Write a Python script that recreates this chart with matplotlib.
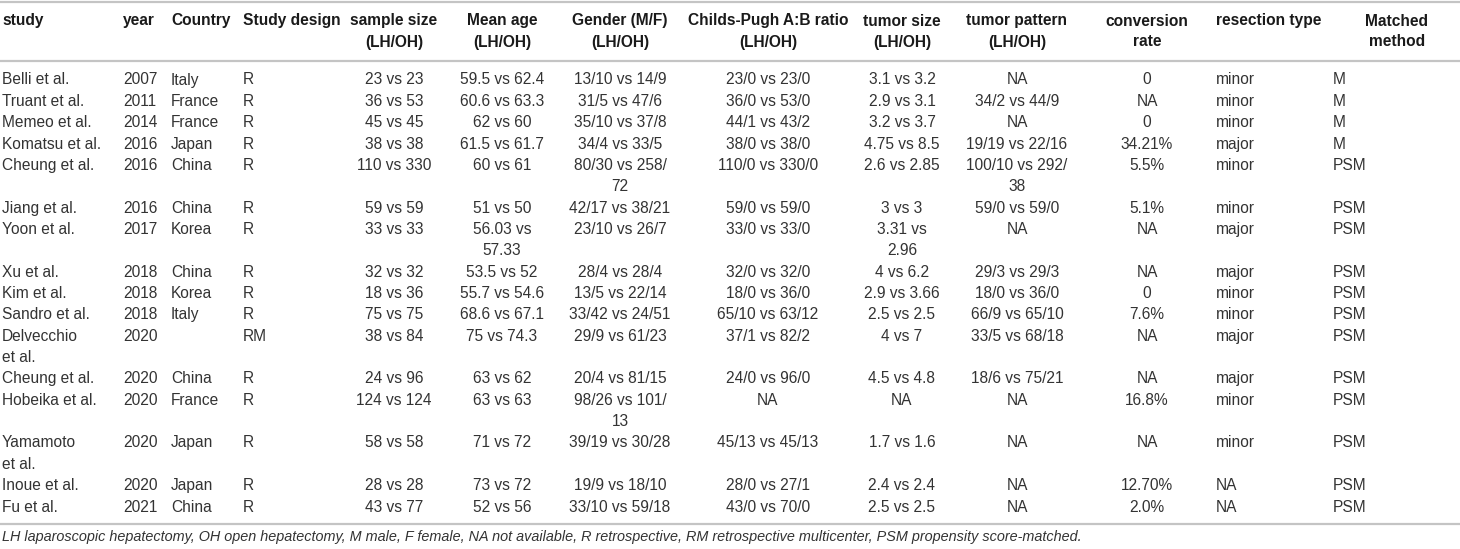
import matplotlib
matplotlib.use("Agg")
import matplotlib.pyplot as plt

plt.rcParams['font.family'] = ['Liberation Sans', 'DejaVu Sans']

headers = ["study", "year", "Country", "Study design", "sample size\n(LH/OH)", "Mean age\n(LH/OH)",
           "Gender (M/F)\n(LH/OH)", "Childs-Pugh A:B ratio\n(LH/OH)", "tumor size\n(LH/OH)",
           "tumor pattern\n(LH/OH)", "conversion\nrate", "resection type", "Matched\nmethod"]

studies = ["Belli et al.", "Truant et al.", "Memeo et al.", "Komatsu et al.", "Cheung et al.", "Jiang et al.",
           "Yoon et al.", "Xu et al.", "Kim et al.", "Sandro et al.", "Delvecchio\net al.", "Cheung et al.",
           "Hobeika et al.", "Yamamoto\net al.", "Inoue et al.", "Fu et al."]
years = ["2007", "2011", "2014", "2016", "2016", "2016", "2017", "2018", "2018", "2018", "2020", "2020",
         "2020", "2020", "2020", "2021"]
countries = ["Italy", "France", "France", "Japan", "China", "China", "Korea", "China", "Korea", "Italy", "",
             "China", "France", "Japan", "Japan", "China"]
designs = ["R", "R", "R", "R", "R", "R", "R", "R", "R", "R", "RM", "R", "R", "R", "R", "R"]
sample_size = ["23 vs 23", "36 vs 53", "45 vs 45", "38 vs 38", "110 vs 330", "59 vs 59", "33 vs 33", "32 vs 32",
               "18 vs 36", "75 vs 75", "38 vs 84", "24 vs 96", "124 vs 124", "58 vs 58", "28 vs 28", "43 vs 77"]
mean_age = ["59.5 vs 62.4", "60.6 vs 63.3", "62 vs 60", "61.5 vs 61.7", "60 vs 61", "51 vs 50", "56.03 vs\n57.33",
            "53.5 vs 52", "55.7 vs 54.6", "68.6 vs 67.1", "75 vs 74.3", "63 vs 62", "63 vs 63", "71 vs 72",
            "73 vs 72", "52 vs 56"]
gender = ["13/10 vs 14/9", "31/5 vs 47/6", "35/10 vs 37/8", "34/4 vs 33/5", "80/30 vs 258/\n72", "42/17 vs 38/21",
          "23/10 vs 26/7", "28/4 vs 28/4", "13/5 vs 22/14", "33/42 vs 24/51", "29/9 vs 61/23", "20/4 vs 81/15",
          "98/26 vs 101/\n13", "39/19 vs 30/28", "19/9 vs 18/10", "33/10 vs 59/18"]
childs_pugh = ["23/0 vs 23/0", "36/0 vs 53/0", "44/1 vs 43/2", "38/0 vs 38/0", "110/0 vs 330/0", "59/0 vs 59/0",
               "33/0 vs 33/0", "32/0 vs 32/0", "18/0 vs 36/0", "65/10 vs 63/12", "37/1 vs 82/2", "24/0 vs 96/0",
               "NA", "45/13 vs 45/13", "28/0 vs 27/1", "43/0 vs 70/0"]
tumor_size = ["3.1 vs 3.2", "2.9 vs 3.1", "3.2 vs 3.7", "4.75 vs 8.5", "2.6 vs 2.85", "3 vs 3", "3.31 vs\n2.96",
              "4 vs 6.2", "2.9 vs 3.66", "2.5 vs 2.5", "4 vs 7", "4.5 vs 4.8", "NA", "1.7 vs 1.6", "2.4 vs 2.4",
              "2.5 vs 2.5"]
tumor_pattern = ["NA", "34/2 vs 44/9", "NA", "19/19 vs 22/16", "100/10 vs 292/\n38", "59/0 vs 59/0", "NA",
                 "29/3 vs 29/3", "18/0 vs 36/0", "66/9 vs 65/10", "33/5 vs 68/18", "18/6 vs 75/21", "NA", "NA",
                 "NA", "NA"]
conversion = ["0", "NA", "0", "34.21%", "5.5%", "5.1%", "NA", "NA", "0", "7.6%", "NA", "NA", "16.8%", "NA",
              "12.70%", "2.0%"]
resection = ["minor", "minor", "minor", "major", "minor", "minor", "major", "major", "minor", "minor", "major",
             "major", "minor", "minor", "NA", "NA"]
matched = ["M", "M", "M", "M", "PSM", "PSM", "PSM", "PSM", "PSM", "PSM", "PSM", "PSM", "PSM", "PSM", "PSM", "PSM"]

footnote = ("LH laparoscopic hepatectomy, OH open hepatectomy, M male, F female, NA not available, "
            "R retrospective, RM retrospective multicenter, PSM propensity score-matched.")

columns = [studies, years, countries, designs, sample_size, mean_age, gender, childs_pugh, tumor_size,
           tumor_pattern, conversion, resection, matched]

# layout (pixel coordinates)
col_x = [2, 123, 171, 243, 394, 502, 620, 768, 902, 1017, 1147, 1216, 1397]
col_ha = ["left", "left", "left", "left", "center", "center", "center", "center", "center", "center",
          "center", "left", "center"]
data_x = list(col_x)
data_x[12] = 1333
data_ha = list(col_ha)
data_ha[12] = "left"

W, H = 1460, 549
fig = plt.figure(figsize=(W / 100, H / 100), dpi=100)
ax = fig.add_axes([0, 0, 1, 1])
ax.set_xlim(0, W)
ax.set_ylim(H, 0)
ax.axis("off")

fs = 11.2
hdr_color = "#1a1a1a"
txt_color = "#333333"
line_color = "#c4c4c4"

# header
for x, ha, h in zip(col_x, col_ha, headers):
    for k, part in enumerate(h.split("\n")):
        ax.text(x, 21 + k * 21, part, ha=ha, va="center", fontsize=fs, fontweight="bold", color=hdr_color)

# rules
for y in (1.5, 61, 524):
    ax.plot([0, W], [y, y], color=line_color, lw=1.6, solid_capstyle="butt")

# body
y0, step = 80, 21.35
line_idx = 0
n = len(studies)
for r in range(n):
    nlines = max(len(col[r].split("\n")) for col in columns)
    for x, ha, col in zip(data_x, data_ha, columns):
        for k, part in enumerate(col[r].split("\n")):
            ax.text(x, y0 + (line_idx + k) * step, part, ha=ha, va="center", fontsize=fs, color=txt_color)
    line_idx += nlines

ax.text(2, 537, footnote, ha="left", va="center", fontsize=10.35, style="italic", color=txt_color)

fig.savefig("out.png", dpi=100)
